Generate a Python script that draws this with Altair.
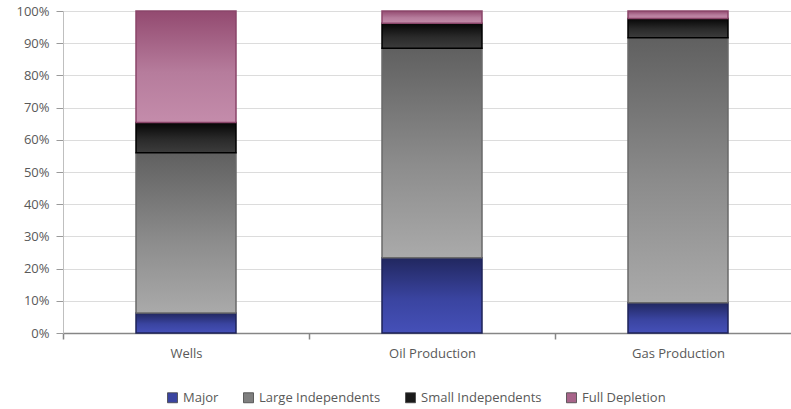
import altair as alt
import pandas as pd

# Share of each operator group, in percent, per category
categories = ["Wells", "Oil Production", "Gas Production"]
series = ["Major", "Large Independents", "Small Independents", "Full Depletion"]
major = [6.2, 23.4, 9.4]
large_independents = [49.8, 65.0, 82.3]
small_independents = [9.4, 7.8, 6.0]
full_depletion = [34.6, 3.8, 2.3]

values = [major, large_independents, small_independents, full_depletion]
rows = []
for order, (name, vals) in enumerate(zip(series, values)):
    for cat, v in zip(categories, vals):
        rows.append({"category": cat, "series": name, "order": order, "value": v})
df = pd.DataFrame(rows)

# Per-series look: gradient stops (top -> bottom), outline, legend swatch
styles = {
    "Major": (["#21275f", "#3a44a0", "#4550b8"], "#1e2358", "#3a44a0"),
    "Large Independents": (["#606060", "#8c8c8c", "#aaaaaa"], "#6a6a6a", "#7f7f7f"),
    "Small Independents": (["#050505", "#2a2a2a", "#3c3c3c"], "#000000", "#1a1a1a"),
    "Full Depletion": (["#934a70", "#b67c9c", "#c48cab"], "#8a466a", "#a8648a"),
}

FONT = "Open Sans"
LABEL = "#595959"
BAR_WIDTH = 100

base = alt.Chart(df).transform_stack(
    stack="value",
    groupby=["category"],
    sort=[alt.SortField("order", order="ascending")],
    offset="normalize",
    as_=["y0", "y1"],
)

x_enc = alt.X(
    "category:N",
    sort=categories,
    title=None,
    scale=alt.Scale(range=[0, 738], paddingInner=0, paddingOuter=0),
    axis=alt.Axis(
        labelAngle=0,
        tickBand="extent",
        tickSize=6,
        labelPadding=8,
        domainColor="#868686",
        domainWidth=1.5,
        tickColor="#868686",
        tickWidth=1.5,
        labelFont=FONT,
        labelFontSize=13,
        labelColor=LABEL,
    ),
)
y_enc = alt.Y(
    "y0:Q",
    title=None,
    scale=alt.Scale(domain=[0, 1], nice=False),
    axis=alt.Axis(
        format=".0%",
        values=[i / 10 for i in range(11)],
        tickSize=7,
        labelPadding=7,
        domainColor="#bfbfbf",
        tickColor="#9a9a9a",
        gridColor="#dcdcdc",
        gridWidth=1.2,
        labelFont=FONT,
        labelFontSize=13,
        labelColor=LABEL,
    ),
)

# Solid layer carries the legend; gradient layers are drawn over it
legend_layer = base.mark_bar(strokeWidth=1.5, width=BAR_WIDTH).encode(
    x=x_enc,
    y=y_enc,
    y2="y1:Q",
    color=alt.Color(
        "series:N",
        sort=series,
        scale=alt.Scale(domain=series, range=[styles[s][2] for s in series]),
        legend=alt.Legend(
            title=None,
            orient="none",
            direction="horizontal",
            legendX=103,
            legendY=380,
            symbolType="square",
            symbolSize=100,
            symbolStrokeColor="#444444",
            symbolStrokeWidth=0.8,
            labelFont=FONT,
            labelFontSize=13,
            labelColor=LABEL,
            labelOffset=4,
            columnPadding=22,
            padding=0,
        ),
    ),
)

layers = [legend_layer]
for s in series:
    stops, stroke, _ = styles[s]
    grad = alt.Gradient(
        gradient="linear",
        x1=0, x2=0, y1=0, y2=1,
        stops=[
            alt.GradientStop(color=stops[0], offset=0),
            alt.GradientStop(color=stops[1], offset=0.55),
            alt.GradientStop(color=stops[2], offset=1),
        ],
    )
    layers.append(
        base.transform_filter(alt.datum.series == s)
        .mark_bar(fill=grad, stroke=stroke, strokeWidth=1.5, width=BAR_WIDTH)
        .encode(x=x_enc, y=y_enc, y2="y1:Q")
    )

chart = (
    alt.layer(*layers)
    .properties(
        width=728,
        height=322,
        autosize=alt.AutoSizeParams(type="none"),
        padding={"left": 63, "top": 11, "right": 0, "bottom": 76},
        background="white",
    )
    .configure_view(stroke=None)
)

chart.save("out.html", embed_options={"renderer": "svg", "actions": False})
